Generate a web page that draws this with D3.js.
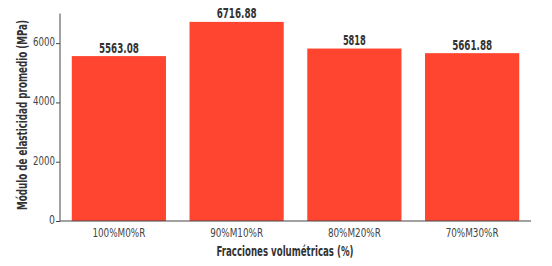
<!DOCTYPE html>
<html>
<head>
<meta charset="utf-8">
<script src="https://cdn.jsdelivr.net/npm/d3@7"></script>
<style>
  body { margin: 0; background: #fff; }
  svg { display: block; }
  text { font-family: "DejaVu Sans", sans-serif; font-stretch: condensed; }
</style>
</head>
<body>
<svg id="chart" width="552" height="266"></svg>
<script>
const categories = ["100%M0%R", "90%M10%R", "80%M20%R", "70%M30%R"];
const values = [5563.08, 6716.88, 5818, 5661.88];
const valueLabels = ["5563.08", "6716.88", "5818", "5661.88"];
const yTicks = [0, 2000, 4000, 6000];
const yTitle = "Módulo de elasticidad promedio (MPa)";
const xTitle = "Fracciones volumétricas (%)";

const svg = d3.select("#chart");
const mLeft = 60, mRight = 531, mTop = 13.5, mBottom = 221;

const x = d3.scaleBand().domain(categories).range([mLeft, mRight])
  .paddingInner(0.2).paddingOuter(0.1);
const y = d3.scaleLinear().domain([0, 7000]).range([mBottom, mTop]);

// fit text width to a target (condensed look of the original)
function fit(sel, w) {
  sel.each(function () {
    const len = this.getComputedTextLength();
    if (len > w) d3.select(this).attr("textLength", w).attr("lengthAdjust", "spacingAndGlyphs");
  });
}

// bars
svg.selectAll("rect.bar").data(values).enter().append("rect")
  .attr("class", "bar")
  .attr("x", (d, i) => x(categories[i]))
  .attr("y", d => y(d))
  .attr("width", x.bandwidth())
  .attr("height", d => y(0) - y(d))
  .attr("fill", "#ff4530");

// value labels
svg.selectAll("text.val").data(values).enter().append("text")
  .attr("class", "val")
  .attr("x", (d, i) => x(categories[i]) + x.bandwidth() / 2)
  .attr("y", d => y(d) - 3.5)
  .attr("text-anchor", "middle")
  .attr("font-size", 14)
  .attr("font-weight", "bold")
  .attr("fill", "#333")
  .text((d, i) => valueLabels[i])
  .call(s => s.each(function (d, i) {
    const w = valueLabels[i].length === 4 ? 23 : 40;
    fit(d3.select(this), w);
  }));

// y axis
const yAxis = d3.axisLeft(y).tickValues(yTicks).tickSize(4).tickPadding(1)
  .tickFormat(d3.format("d"));
const gy = svg.append("g").attr("transform", `translate(${mLeft},0)`).call(yAxis);
gy.select(".domain").attr("stroke", "#444").attr("d", `M0,${mTop}V${mBottom}`);
gy.selectAll(".tick line").attr("stroke", "#444");
gy.selectAll(".tick text").attr("font-size", 12.5).attr("fill", "#444")
  .attr("font-family", null).attr("dy", "0.2em")
  .each(function (d) { fit(d3.select(this), d === 0 ? 6 : 22); });

// x axis
const xAxis = d3.axisBottom(x).tickSize(0).tickPadding(7);
const gx = svg.append("g").attr("transform", `translate(0,${mBottom})`).call(xAxis);
gx.select(".domain").attr("stroke", "#444").attr("d", `M${mLeft},0H${mRight}`);
gx.selectAll(".tick text").attr("font-size", 12.5).attr("fill", "#444")
  .attr("font-family", null)
  .each(function (d) { fit(d3.select(this), d.length === 8 ? 53 : 48); });

// titles
svg.append("text")
  .attr("x", 285).attr("y", 256)
  .attr("text-anchor", "middle")
  .attr("font-size", 13.5).attr("font-weight", "bold").attr("fill", "#333")
  .text(xTitle)
  .call(s => fit(s, 137));

svg.append("text")
  .attr("transform", "translate(27,115) rotate(-90)")
  .attr("text-anchor", "middle")
  .attr("font-size", 13.5).attr("font-weight", "bold").attr("fill", "#333")
  .text(yTitle)
  .call(s => fit(s, 190));
</script>
</body>
</html>
